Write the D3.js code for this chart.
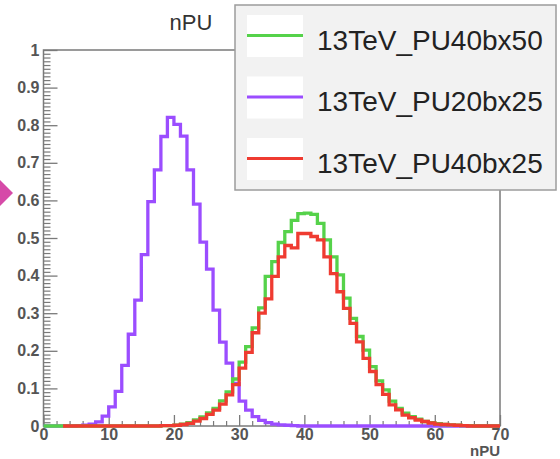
<!DOCTYPE html>
<html>
<head>
<meta charset="utf-8">
<script src="https://cdn.jsdelivr.net/npm/d3@7/dist/d3.min.js"></script>
<style>
  html, body { margin: 0; padding: 0; background: #ffffff; }
  svg { display: block; }
</style>
</head>
<body>
<svg id="chart" width="560" height="459"></svg>
<script>
// nPU pile-up distributions, one value per unit-wide bin from 0 to 70
const binEdges = d3.range(0, 71);

const pu20bx25 = [
  0, 0, 0, 0, 0, 0.001, 0.002, 0.005, 0.011, 0.026,
  0.051, 0.092, 0.161, 0.244, 0.335, 0.456, 0.597, 0.681, 0.770, 0.821,
  0.802, 0.771, 0.681, 0.590, 0.489, 0.417, 0.308, 0.223, 0.167, 0.113,
  0.066, 0.042, 0.025, 0.015, 0.009, 0.005, 0.003, 0.002, 0.001, 0,
  0, 0, 0, 0, 0, 0, 0, 0, 0, 0,
  0, 0, 0, 0, 0, 0, 0, 0, 0, 0,
  0, 0, 0, 0, 0, 0, 0, 0, 0, 0
];

const pu40bx50 = [
  0, 0, 0, 0, 0, 0, 0, 0, 0, 0,
  0, 0, 0, 0, 0, 0, 0, 0, 0.001, 0.001,
  0.002, 0.005, 0.009, 0.016, 0.024, 0.035, 0.047, 0.067, 0.091, 0.125,
  0.170, 0.211, 0.261, 0.314, 0.398, 0.437, 0.488, 0.517, 0.547, 0.565,
  0.566, 0.563, 0.539, 0.495, 0.450, 0.402, 0.340, 0.286, 0.238, 0.202,
  0.158, 0.120, 0.096, 0.066, 0.047, 0.034, 0.025, 0.018, 0.012, 0.009,
  0.006, 0.004, 0.003, 0.002, 0.001, 0.001, 0, 0, 0, 0
];

// first three bins are empty (not drawn) for this sample
const pu40bx25 = [
  null, null, null, 0, 0, 0, 0, 0, 0, 0,
  0, 0, 0, 0, 0, 0, 0, 0, 0.001, 0.001,
  0.002, 0.004, 0.007, 0.013, 0.020, 0.031, 0.042, 0.058, 0.083, 0.110,
  0.154, 0.196, 0.248, 0.300, 0.338, 0.398, 0.450, 0.480, 0.474, 0.512,
  0.512, 0.504, 0.495, 0.450, 0.405, 0.357, 0.313, 0.273, 0.224, 0.180,
  0.145, 0.110, 0.084, 0.056, 0.043, 0.029, 0.022, 0.016, 0.012, 0.008,
  0.005, 0.004, 0.003, 0.002, 0.001, 0, 0, 0, 0, 0
];

const seriesNames = ["13TeV_PU40bx50", "13TeV_PU20bx25", "13TeV_PU40bx25"];
const seriesColors = ["#55d24a", "#9b4dff", "#ef3b31"];

const xTicks = [0, 10, 20, 30, 40, 50, 60, 70];
const xTickLabels = ["0", "10", "20", "30", "40", "50", "60", "70"];
const yTicks = [0, 0.1, 0.2, 0.3, 0.4, 0.5, 0.6, 0.7, 0.8, 0.9, 1];
const yTickLabels = ["0", "0.1", "0.2", "0.3", "0.4", "0.5", "0.6", "0.7", "0.8", "0.9", "1"];

const svg = d3.select("#chart");
const frame = { left: 43.5, right: 500, top: 50, bottom: 426 };

const x = d3.scaleLinear().domain([0, 70]).range([frame.left, frame.right]);
const y = d3.scaleLinear().domain([0, 1]).range([frame.bottom, frame.top]);

const axisColor = "#7a7a7a";
const labelFont = "'Liberation Sans', Arial, Helvetica, sans-serif";

// title
svg.append("text")
  .attr("x", 191).attr("y", 30)
  .attr("text-anchor", "middle")
  .attr("font-family", labelFont)
  .attr("font-size", 22)
  .attr("fill", "#333")
  .text("nPU");

// frame
svg.append("rect")
  .attr("x", frame.left).attr("y", frame.top)
  .attr("width", frame.right - frame.left)
  .attr("height", frame.bottom - frame.top)
  .attr("fill", "none")
  .attr("stroke", axisColor)
  .attr("stroke-width", 1.5);

// y axis: major + minor ticks drawn inside the frame
const yMinor = d3.range(0, 101).map(d => d / 100).filter(d => Math.round(d * 100) % 10 !== 0);
svg.append("g")
  .attr("transform", `translate(${frame.left},0)`)
  .call(d3.axisLeft(y).tickValues(yMinor).tickSizeInner(-7).tickSizeOuter(0).tickFormat(""))
  .call(g => g.select(".domain").remove())
  .call(g => g.selectAll("line").attr("stroke", axisColor).attr("stroke-width", 1.2));

svg.append("g")
  .attr("transform", `translate(${frame.left},0)`)
  .call(d3.axisLeft(y).tickValues(yTicks).tickSizeInner(-14).tickSizeOuter(0).tickPadding(4)
    .tickFormat((d, i) => yTickLabels[i]))
  .call(g => g.select(".domain").remove())
  .call(g => g.selectAll("line").attr("stroke", axisColor).attr("stroke-width", 1.3))
  .call(g => g.selectAll("text")
    .attr("font-family", labelFont).attr("font-size", 16)
    .attr("font-weight", "bold").attr("fill", "#555"));

// x axis
const xMinor = d3.range(0, 71, 2).filter(d => d % 10 !== 0);
svg.append("g")
  .attr("transform", `translate(0,${frame.bottom})`)
  .call(d3.axisBottom(x).tickValues(xMinor).tickSizeInner(-5).tickSizeOuter(0).tickFormat(""))
  .call(g => g.select(".domain").remove())
  .call(g => g.selectAll("line").attr("stroke", axisColor).attr("stroke-width", 1.2));

svg.append("g")
  .attr("transform", `translate(0,${frame.bottom})`)
  .call(d3.axisBottom(x).tickValues(xTicks).tickSizeInner(-11).tickSizeOuter(0).tickPadding(3)
    .tickFormat((d, i) => xTickLabels[i]))
  .call(g => g.select(".domain").remove())
  .call(g => g.selectAll("line").attr("stroke", axisColor).attr("stroke-width", 1.3))
  .call(g => g.selectAll("text")
    .attr("font-family", labelFont).attr("font-size", 16)
    .attr("font-weight", "bold").attr("fill", "#555"));

svg.append("text")
  .attr("x", frame.right).attr("y", 456)
  .attr("text-anchor", "end")
  .attr("font-family", labelFont)
  .attr("font-size", 15)
  .attr("font-weight", "bold")
  .attr("fill", "#555")
  .text("nPU");

// histograms as step outlines
function stepPoints(values) {
  const pts = [];
  values.forEach((v, i) => {
    if (v === null) return;
    pts.push([binEdges[i], v]);
  });
  const last = values.length - 1;
  pts.push([binEdges[last + 1], values[last]]);
  return pts;
}
const stepLine = d3.line()
  .x(d => x(d[0]))
  .y(d => y(d[1]))
  .curve(d3.curveStepAfter);

const drawOrder = [
  { values: pu20bx25, color: seriesColors[1] },
  { values: pu40bx50, color: seriesColors[0] },
  { values: pu40bx25, color: seriesColors[2] }
];
svg.append("g").selectAll("path")
  .data(drawOrder)
  .join("path")
  .attr("d", d => stepLine(stepPoints(d.values)))
  .attr("fill", "none")
  .attr("stroke", d => d.color)
  .attr("stroke-width", 3.3)
  .attr("stroke-linejoin", "miter");

// legend
const legend = svg.append("g");
legend.append("rect")
  .attr("x", 235).attr("y", 5)
  .attr("width", 321).attr("height", 185)
  .attr("fill", "#f2f2f2")
  .attr("stroke", "#9c9c9c")
  .attr("stroke-width", 1.5);

const entryTop = [15, 76.5, 138];
seriesNames.forEach((name, i) => {
  const g = legend.append("g");
  g.append("rect")
    .attr("x", 247).attr("y", entryTop[i])
    .attr("width", 56).attr("height", 42)
    .attr("fill", "#ffffff");
  g.append("line")
    .attr("x1", 247).attr("x2", 303)
    .attr("y1", entryTop[i] + 20.5).attr("y2", entryTop[i] + 20.5)
    .attr("stroke", seriesColors[i])
    .attr("stroke-width", 3);
  g.append("text")
    .attr("x", 317).attr("y", entryTop[i] + 34.5)
    .attr("font-family", labelFont)
    .attr("font-size", 28)
    .attr("fill", "#222")
    .text(name);
});

// slide marker on the left edge
svg.append("polygon")
  .attr("points", "-3,177 13,193 -3,209 -19,193")
  .attr("fill", "#d64aa8");
</script>
</body>
</html>
